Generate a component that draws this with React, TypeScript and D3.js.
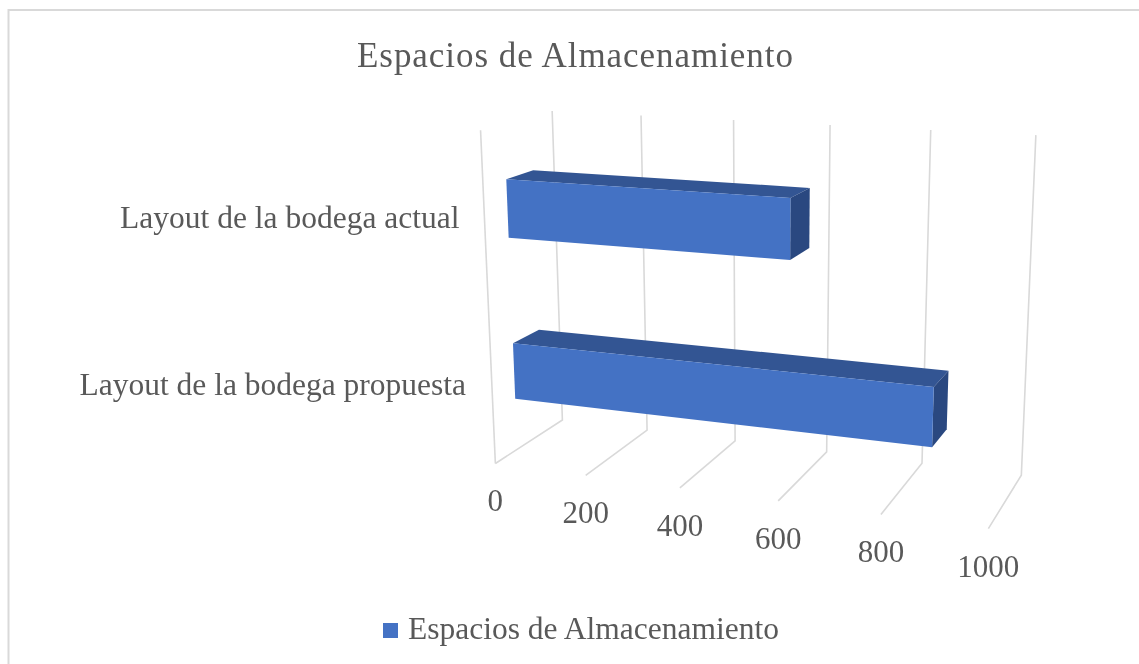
import React from "react";
import * as d3 from "d3";

const categories = ["Layout de la bodega propuesta", "Layout de la bodega actual"];
const values = [870, 590];
const ticks = [0, 200, 400, 600, 800, 1000];
const titleText = "Espacios de Almacenamiento";
const seriesName = "Espacios de Almacenamiento";

// Frame of the 3-D box as it appears on screen: used to fit the camera.
const floorFront = [[495, 463], [586, 475], [680, 488], [778, 501], [881, 515], [988, 529]];
const floorBack = [[562, 420], [647, 430], [736, 441], [827, 453], [922, 463], [1021, 474]];
const wallTop = [[552, 112], [641, 115], [733, 120], [830, 125], [931, 130], [1036, 135]];
const sideTop = [481, 130];

type P3 = [number, number, number];

function solve(A: number[][], b: number[]): number[] {
  const n = b.length;
  const M = A.map((r, i) => [...r, b[i]]);
  for (let i = 0; i < n; i++) {
    let p = i;
    for (let k = i + 1; k < n; k++) if (Math.abs(M[k][i]) > Math.abs(M[p][i])) p = k;
    [M[i], M[p]] = [M[p], M[i]];
    for (let k = 0; k < n; k++) {
      if (k === i) continue;
      const f = M[k][i] / M[i][i];
      for (let j = i; j <= n; j++) M[k][j] -= f * M[i][j];
    }
  }
  return M.map((r, i) => r[n] / r[i]);
}

function fitCamera() {
  const pts: { p: P3; s: number[] }[] = [];
  ticks.forEach((t, i) => {
    const v = t / 1000;
    pts.push({ p: [v, 0, 0], s: floorFront[i] });
    pts.push({ p: [v, 1, 0], s: floorBack[i] });
    pts.push({ p: [v, 1, 1], s: wallTop[i] });
  });
  pts.push({ p: [0, 0, 1], s: sideTop });
  const rows: number[][] = [];
  const rhs: number[] = [];
  pts.forEach(({ p, s }) => {
    rows.push([p[0], p[1], p[2], 1, 0, 0, 0, 0, -s[0] * p[0], -s[0] * p[1], -s[0] * p[2]]);
    rhs.push(s[0]);
    rows.push([0, 0, 0, 0, p[0], p[1], p[2], 1, -s[1] * p[0], -s[1] * p[1], -s[1] * p[2]]);
    rhs.push(s[1]);
  });
  const n = 11;
  const AtA = d3.range(n).map((i) => d3.range(n).map((j) => d3.sum(rows, (r) => r[i] * r[j])));
  const Atb = d3.range(n).map((i) => d3.sum(rows, (r, k) => r[i] * rhs[k]));
  return solve(AtA, Atb);
}

const cam = fitCamera();
const xValue = d3.scaleLinear().domain([0, 1000]).range([0, 1]);
const project = (val: number, depth: number, height: number): [number, number] => {
  const v = xValue(val);
  const w = cam[8] * v + cam[9] * depth + cam[10] * height + 1;
  return [
    (cam[0] * v + cam[1] * depth + cam[2] * height + cam[3]) / w,
    (cam[4] * v + cam[5] * depth + cam[6] * height + cam[7]) / w,
  ];
};

const yBand = d3.scaleBand<string>().domain(categories).range([0, 1]).paddingInner(0.65).paddingOuter(0.325);
const depthFront = 0.31;
const depthBack = 0.69;

const line = d3.line<[number, number]>();
const face = (p: [number, number][]) => line(p) + "Z";

const serif = "'Liberation Serif', serif";
const textColor = "#595959";
const gridColor = "#D9D9D9";

export default function App() {
  return (
    <svg width={1139} height={664} style={{ position: "fixed", left: 0, top: 0, display: "block", background: "#fff", filter: "blur(0.4px)" }}>
      <rect x={8.5} y={10} width={1137} height={670} fill="#fff" stroke={gridColor} strokeWidth={2} />
      <text x={575} y={67} textAnchor="middle" fontFamily={serif} fontSize={35} fill={textColor} textLength={436} lengthAdjust="spacing">
        {titleText}
      </text>
      <g stroke={gridColor} strokeWidth={1.6} fill="none">
        <path d={line([project(0, 0, 0), project(0, 0, 1)]) as string} />
        {ticks.map((t) => (
          <path key={t} d={line([project(t, 0, 0), project(t, 1, 0), project(t, 1, 1)]) as string} />
        ))}
      </g>
      {categories.map((c, i) => {
        const h0 = yBand(c) as number;
        const h1 = h0 + yBand.bandwidth();
        const v = values[i];
        return (
          <g key={c}>
            <path d={face([project(0, depthFront, h1), project(0, depthBack, h1), project(v, depthBack, h1), project(v, depthFront, h1)])} fill="#335593" />
            <path d={face([project(v, depthFront, h0), project(v, depthFront, h1), project(v, depthBack, h1), project(v, depthBack, h0)])} fill="#2A4880" />
            <path d={face([project(0, depthFront, h0), project(0, depthFront, h1), project(v, depthFront, h1), project(v, depthFront, h0)])} fill="#4472C4" />
          </g>
        );
      })}
      {categories.map((c, i) => {
        const h = (yBand(c) as number) + yBand.bandwidth() / 2;
        const [px, py] = project(0, depthFront, h);
        return (
          <text key={c} x={px - 48} y={py + (i === 0 ? 24 : 19)} textAnchor="end" fontFamily={serif} fontSize={31.5} fill={textColor}>
            {c}
          </text>
        );
      })}
      {ticks.map((t) => {
        const [px, py] = project(t, 0, 0);
        return (
          <text key={t} x={px} y={py + 48} textAnchor="middle" fontFamily={serif} fontSize={31} fill={textColor}>
            {t}
          </text>
        );
      })}
      <rect x={383} y={623} width={15} height={15} fill="#4472C4" />
      <text x={408} y={639} fontFamily={serif} fontSize={31.5} fill={textColor}>
        {seriesName}
      </text>
    </svg>
  );
}
